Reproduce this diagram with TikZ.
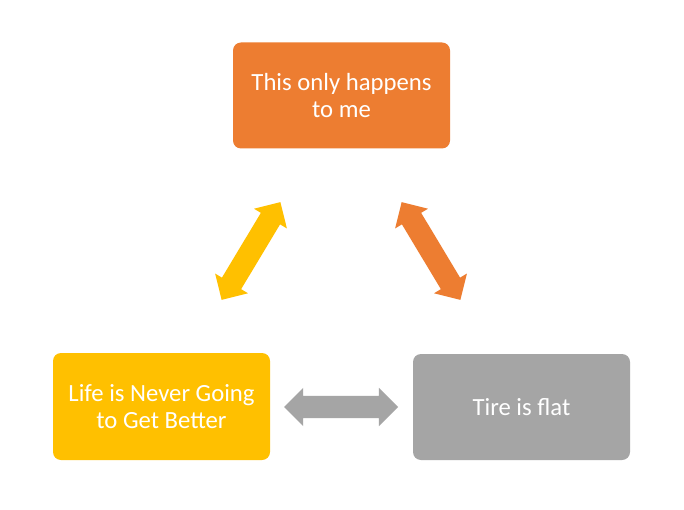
\documentclass[tikz,border=0pt]{standalone}
\usepackage{fontspec}
\setmainfont{Carlito}
\usetikzlibrary{shapes.arrows}
\definecolor{oorange}{HTML}{ED7D31}
\definecolor{ogold}{HTML}{FFC000}
\definecolor{ogray}{HTML}{A5A5A5}
\tikzset{
  box/.style={rounded corners=8pt, minimum width=217pt, minimum height=106pt,
    inner sep=0pt, text=white, align=center,
    font=\fontsize{24.7}{27}\selectfont},
  dbl/.style={double arrow, double arrow head extend=8pt, minimum height=114pt,
    minimum width=38pt, inner xsep=0pt, inner ysep=11pt, draw=none,
    double arrow tip angle=90}
}
\begin{document}
\begin{tikzpicture}[x=1pt,y=1pt]
\useasboundingbox (0,0) rectangle (684,509);
\fill[white] (0,0) rectangle (684,509);
\node[box, fill=oorange] (top) at (341.5,413.5) {This only happens\\to me};
\node[box, fill=ogold, minimum height=107pt] (left) at (161.5,102.5) {Life is Never Going\\to Get Better};
\node[box, fill=ogray] (right) at (521.5,102) {Tire is flat};
\node[dbl, fill=ogray] (a3) at (341,102) {};
\node[dbl, fill=ogold, rotate=59] (a1) at (251,258) {};
\node[dbl, fill=oorange, rotate=-59] (a2) at (431,258) {};
\end{tikzpicture}
\end{document}
